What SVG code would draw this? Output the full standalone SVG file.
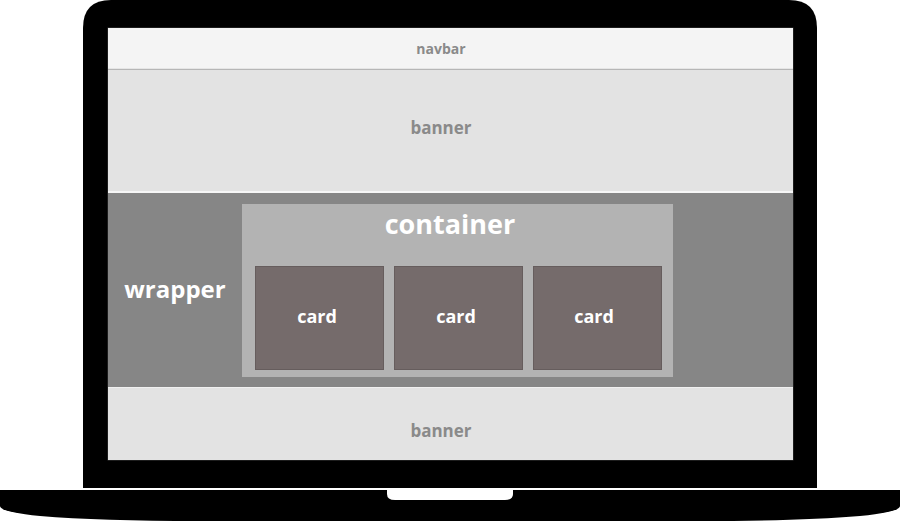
<svg xmlns="http://www.w3.org/2000/svg" width="900" height="522" viewBox="0 0 900 522">
  <style>
    .lbl { font-family: "Open Sans", "Liberation Sans", sans-serif; font-weight: 700; text-anchor: middle; }
    .grey { fill: #8a8a8a; }
    .white { fill: #ffffff; }
    .card { fill: #756b6b; stroke: #665d5d; stroke-width: 1; }
  </style>
  <rect width="900" height="522" fill="#ffffff"/>

  <!-- laptop lid -->
  <g id="lid">
    <path d="M83 488 V28 Q83 0 111 0 H789 Q817 0 817 28 V488 Z" fill="#000000"/>
    <rect x="107.5" y="27.5" width="686" height="433" fill="#3a3a3a"/>
  </g>

  <!-- laptop base -->
  <g id="base">
    <path d="M0 490 H900 V506 Q900 512 860 516 Q800 521 700 521 H200 Q100 521 40 516 Q0 512 0 506 Z" fill="#000000"/>
    <path d="M387 490 H513 V494 Q513 500 505 500 H395 Q387 500 387 494 Z" fill="#ffffff"/>
  </g>

  <!-- page layout -->
  <g id="navbar">
    <rect x="108" y="28" width="685" height="41" fill="#f4f4f4"/>
    <rect x="108" y="68.5" width="685" height="1" fill="#d6d6d6"/>
    <text class="lbl grey" x="441" y="54" font-size="14">navbar</text>
  </g>
  <g id="banner-top">
    <rect x="108" y="69.5" width="685" height="121.5" fill="#e3e3e3"/>
    <text class="lbl grey" x="441" y="134" font-size="17">banner</text>
  </g>
  <g id="wrapper">
    <rect x="108" y="191" width="685" height="2" fill="#f6f6f6"/>
    <rect x="108" y="193" width="685" height="194" fill="#868686"/>
    <text class="lbl white" x="175" y="298" font-size="24">wrapper</text>
  </g>
  <g id="container">
    <rect x="242" y="204" width="431" height="173" fill="#b3b3b3"/>
    <text class="lbl white" x="450" y="234" font-size="27">container</text>
  </g>
  <g id="card-1">
    <rect class="card" x="255.5" y="266.5" width="128" height="103"/>
    <text class="lbl white" x="317" y="323" font-size="18">card</text>
  </g>
  <g id="card-2">
    <rect class="card" x="394.5" y="266.5" width="128" height="103"/>
    <text class="lbl white" x="456" y="323" font-size="18">card</text>
  </g>
  <g id="card-3">
    <rect class="card" x="533.5" y="266.5" width="128" height="103"/>
    <text class="lbl white" x="594" y="323" font-size="18">card</text>
  </g>
  <g id="banner-bottom">
    <rect x="108" y="387" width="685" height="73" fill="#e3e3e3"/>
    <rect x="108" y="387" width="685" height="1" fill="#f0f0f0"/>
    <text class="lbl grey" x="441" y="437" font-size="17">banner</text>
  </g>
</svg>
